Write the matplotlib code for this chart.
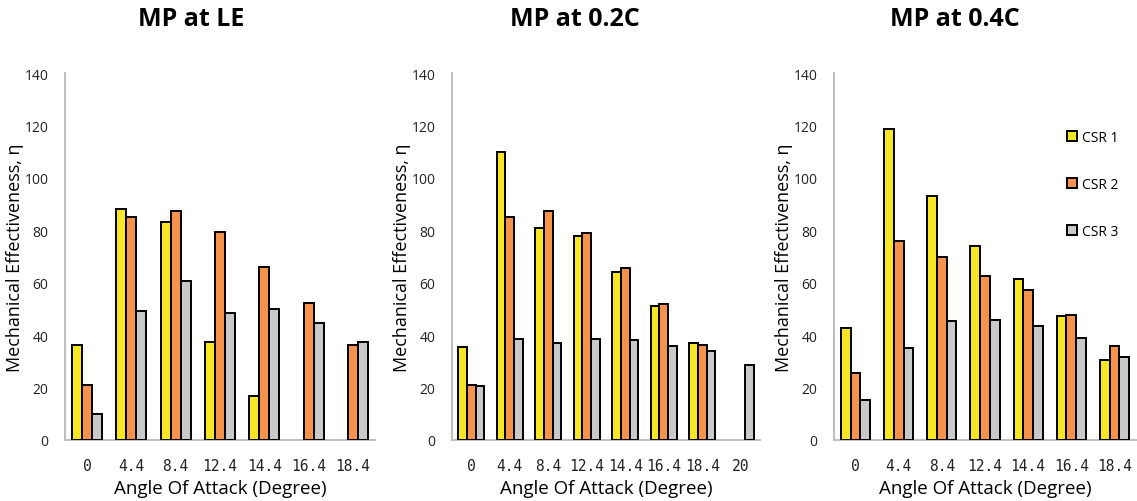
import numpy as np
import matplotlib
matplotlib.use("Agg")
import matplotlib.pyplot as plt

# Mechanical effectiveness for each control surface ratio, per MP location
series_names = ["CSR 1", "CSR 2", "CSR 3"]

aoa_le = ["0", "4.4", "8.4", "12.4", "14.4", "16.4", "18.4"]
le_csr1 = [36.2, 88.2, 83.2, 37.5, 16.9, 0, 0]
le_csr2 = [21.1, 85.2, 87.4, 79.3, 66.0, 52.3, 36.2]
le_csr3 = [9.8, 49.3, 60.7, 48.6, 50.0, 44.5, 37.5]

aoa_02c = ["0", "4.4", "8.4", "12.4", "14.4", "16.4", "18.4", "20"]
c02_csr1 = [35.3, 109.9, 80.8, 77.8, 64.1, 51.1, 37.1, 0]
c02_csr2 = [20.9, 84.9, 87.3, 79.1, 65.7, 52.0, 36.4, 0]
c02_csr3 = [20.6, 38.7, 37.1, 38.7, 38.1, 35.7, 34.0, 28.6]

aoa_04c = ["0", "4.4", "8.4", "12.4", "14.4", "16.4", "18.4"]
c04_csr1 = [42.7, 118.6, 93.1, 74.1, 61.5, 47.3, 30.4]
c04_csr2 = [25.6, 75.9, 69.8, 62.6, 57.1, 47.6, 36.0]
c04_csr3 = [15.4, 35.2, 45.5, 45.9, 43.5, 39.0, 31.8]

titles = ["MP at LE", "MP at 0.2C", "MP at 0.4C"]
colors = ["#F7E623", "#F5924B", "#C9C9C9"]

panels = [
    (aoa_le, [le_csr1, le_csr2, le_csr3]),
    (aoa_02c, [c02_csr1, c02_csr2, c02_csr3]),
    (aoa_04c, [c04_csr1, c04_csr2, c04_csr3]),
]

W, H = 1137, 502
fig = plt.figure(figsize=(W / 100, H / 100), dpi=100)

# axes boxes in pixels: left, right
boxes = [(65, 375), (452, 760), (834, 1136)]
y_top, y_bot = 74, 441
title_x = [191, 575, 955]

sans = "Open Sans"
mono = "DejaVu Sans Mono"
axis_grey = "#BFBFBF"
bw = 0.225

for i, ((cats, vals), (x0, x1)) in enumerate(zip(panels, boxes)):
    ax = fig.add_axes([x0 / W, 1 - y_bot / H, (x1 - x0) / W, (y_bot - y_top) / H])
    x = np.arange(len(cats))
    for k, (v, c) in enumerate(zip(vals, colors)):
        v = np.array(v, dtype=float)
        mask = v > 0
        ax.bar(x[mask] + (k - 1) * bw, v[mask], width=bw, color=c,
               edgecolor="black", linewidth=1.4, label=series_names[k], zorder=3)
    ax.set_xlim(-0.5, len(cats) - 0.5)
    ax.set_ylim(0, 140)
    ax.set_yticks(range(0, 141, 20))
    ax.set_xticks(x)
    ax.set_xticklabels(cats, fontfamily=mono, fontsize=10.5)
    for lbl in ax.get_yticklabels():
        lbl.set_fontfamily(sans)
        lbl.set_fontsize(10)
    ax.tick_params(axis="both", length=0, colors="#222222")
    ax.tick_params(axis="y", pad=12)
    ax.tick_params(axis="x", pad=13)
    for s in ("top", "right"):
        ax.spines[s].set_visible(False)
    ax.spines["left"].set_color(axis_grey)
    ax.spines["bottom"].set_color(axis_grey)
    ax.spines["left"].set_linewidth(1.5)
    ax.spines["bottom"].set_linewidth(1.5)
    ax.set_ylabel("Mechanical Effectiveness, \u03b7", fontfamily=sans,
                  fontsize=13, labelpad=0)
    ax.set_xlabel("Angle Of Attack (Degree)", fontfamily=sans,
                  fontsize=13.5, labelpad=4)
    fig.text(title_x[i] / W, 1 - 20 / H, titles[i], ha="center", va="center",
             fontfamily=sans, fontweight="bold", fontsize=18)

    if i == 2:
        ax.legend(loc="upper left", bbox_to_anchor=(1060 / W, 1 - 124 / H),
                  bbox_transform=fig.transFigure, frameon=False,
                  prop={"family": sans, "size": 10},
                  handlelength=0.75, handleheight=0.75, handletextpad=0.3,
                  labelspacing=2.3, borderpad=0)

fig.savefig("out.png", dpi=100)
